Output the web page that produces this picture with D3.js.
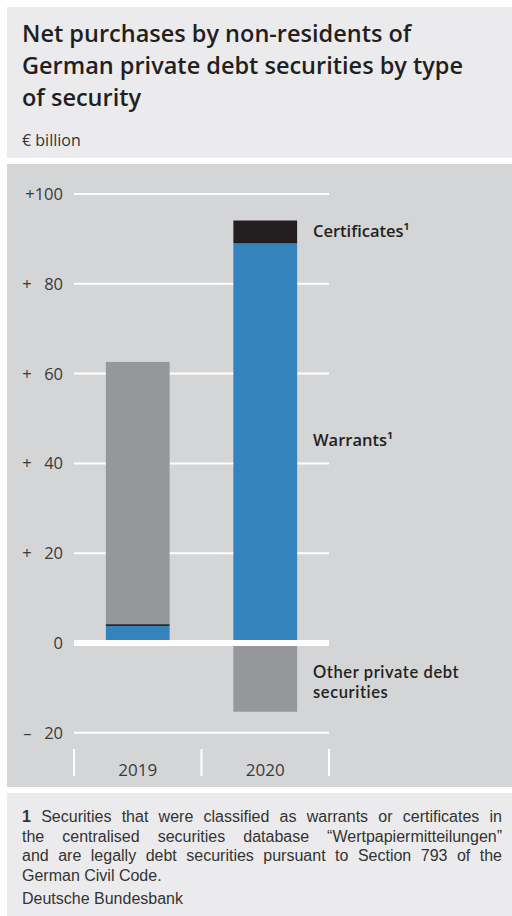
<!DOCTYPE html>
<html>
<head>
<meta charset="utf-8">
<script src="https://cdn.jsdelivr.net/npm/d3@7"></script>
<style>
  body { margin: 0; background: #fff; }
  text { font-family: "Open Sans", "Noto Sans", sans-serif; }
  .tight { font-family: "Lato", "Liberation Sans", sans-serif; letter-spacing: 0.6px; }
  .foot { font-family: "Liberation Sans", "Lato", sans-serif; }
</style>
</head>
<body>
<script>
// Data (€ billion)
var years = ["2019", "2020"];
var warrants = [3.8, 89.0];
var certificates = [0.4, 5.1];
var other = [58.4, -15.3];
var yTicks = [100, 80, 60, 40, 20, 0, -20];
var yTickLabels = ["+100", "+\u2002 80", "+\u2002 60", "+\u2002 40", "+\u2002 20", "0", "\u2013\u2002 20"];

var seriesKeys = ["warrants", "certificates", "other"];
var seriesColors = {warrants: "#3483bd", certificates: "#231f20", other: "#96979a"};

var titleLines = ["Net purchases by non-residents of",
                  "German private debt securities by type",
                  "of security"];
var footLines = ["Securities that were classified as warrants or certificates in",
                 "the centralised securities database \u201cWertpapiermitteilungen\u201d",
                 "and are legally debt securities pursuant to Section 793 of the",
                 "German Civil Code."];

var W = 512, H = 916;

var svg = d3.select("body")
  .append("svg")
    .attr("width", W)
    .attr("height", H);

// Background boxes
svg.append("rect").attr("x", 7).attr("y", 7).attr("width", W - 7).attr("height", 151).attr("fill", "#ebebed");
svg.append("rect").attr("x", 7).attr("y", 164).attr("width", W - 7).attr("height", 623).attr("fill", "#d4d5d7");
svg.append("rect").attr("x", 7).attr("y", 793).attr("width", W - 7).attr("height", H - 793).attr("fill", "#ebebed");

// Title
svg.append("g").selectAll("text")
  .data(titleLines)
  .enter()
  .append("text")
    .attr("x", 22)
    .attr("y", function(d, i) { return 42 + i * 32; })
    .attr("font-size", 23.5)
    .attr("font-weight", 600)
    .attr("fill", "#231f20")
    .text(function(d) { return d; });

svg.append("text")
  .attr("x", 22).attr("y", 146)
  .attr("font-size", 16)
  .attr("fill", "#333")
  .text("\u20ac billion");

// Scales
var x = d3.scaleBand()
  .domain(years)
  .range([74, 329])
  .paddingInner(0.5)
  .paddingOuter(0.25);

var y = d3.scaleLinear()
  .domain([-20, 100])
  .range([732.8, 194]);

// Grid lines
svg.append("g").selectAll("line")
  .data(yTicks.filter(function(d) { return d !== 0; }))
  .enter()
  .append("line")
    .attr("x1", 74).attr("x2", 329)
    .attr("y1", function(d) { return y(d); })
    .attr("y2", function(d) { return y(d); })
    .attr("stroke", "#fff")
    .attr("stroke-width", 2);

// Y tick labels
svg.append("g").selectAll("text")
  .data(yTicks)
  .enter()
  .append("text")
    .attr("x", 63)
    .attr("y", function(d) { return y(d) + 6; })
    .attr("text-anchor", "end")
    .attr("font-size", 16.5)
    .attr("fill", "#3a3a3a")
    .text(function(d, i) { return yTickLabels[i]; });

// Stacked bars
var table = years.map(function(yr, i) {
  return {year: yr, warrants: warrants[i], certificates: certificates[i], other: other[i]};
});
var stack = d3.stack().keys(seriesKeys).offset(d3.stackOffsetDiverging);
var layers = stack(table);

svg.append("g").selectAll("g")
  .data(layers)
  .enter()
  .append("g")
    .attr("fill", function(d) { return seriesColors[d.key]; })
  .selectAll("rect")
  .data(function(d) { return d; })
  .enter()
  .append("rect")
    .attr("x", function(d) { return x(d.data.year); })
    .attr("width", x.bandwidth())
    .attr("y", function(d) { return y(Math.max(d[0], d[1])); })
    .attr("height", function(d) { return Math.abs(y(d[0]) - y(d[1])); });

// Zero line over bars
svg.append("line")
  .attr("x1", 74).attr("x2", 329)
  .attr("y1", y(0)).attr("y2", y(0))
  .attr("stroke", "#fff")
  .attr("stroke-width", 6);

// Category axis: ticks at band edges
var edges = [74].concat(years.map(function(d) { return x(d) + x.bandwidth() + x.step() * 0.25; }));
svg.append("g").selectAll("line")
  .data(edges)
  .enter()
  .append("line")
    .attr("x1", function(d) { return d; })
    .attr("x2", function(d) { return d; })
    .attr("y1", 749).attr("y2", 776)
    .attr("stroke", "#fff")
    .attr("stroke-width", 2);

svg.append("g").selectAll("text")
  .data(years)
  .enter()
  .append("text")
    .attr("x", function(d) { return x(d) + x.bandwidth() / 2; })
    .attr("y", 776)
    .attr("text-anchor", "middle")
    .attr("font-size", 17)
    .attr("fill", "#3a3a3a")
    .text(function(d) { return d; });

// Series labels next to the 2020 bar
var labels = [
  {lines: ["Certificates\u00b9"], y: 237, cls: null},
  {lines: ["Warrants\u00b9"], y: 446, cls: null},
  {lines: ["Other private debt", "securities"], y: 678, cls: "tight"}
];
labels.forEach(function(l) {
  l.lines.forEach(function(t, i) {
    svg.append("text")
      .attr("class", l.cls)
      .attr("x", 313)
      .attr("y", l.y + i * 20)
      .attr("font-size", 16.5)
      .attr("font-weight", 600)
      .attr("fill", "#231f20")
      .text(t);
  });
});

// Footnote, justified by word spacing
var footG = svg.append("g").attr("class", "foot").attr("font-size", 16).attr("fill", "#333");
footLines.forEach(function(t, i) {
  var txt = footG.append("text")
    .attr("class", "foot")
    .attr("x", 22)
    .attr("y", 822 + i * 19.5);
  if (i === 0) {
    txt.append("tspan").attr("font-weight", 700).text("1");
    txt.append("tspan").text(" " + t);
  } else {
    txt.text(t);
  }
  if (i < footLines.length - 1) {
    var w = txt.node().getComputedTextLength();
    var gaps = (i === 0 ? t.split(" ").length : t.split(" ").length - 1);
    txt.attr("word-spacing", (502 - 22 - w) / gaps);
  }
});
footG.append("text")
  .attr("class", "foot")
  .attr("x", 22).attr("y", 904)
  .text("Deutsche Bundesbank");
</script>
</body>
</html>
